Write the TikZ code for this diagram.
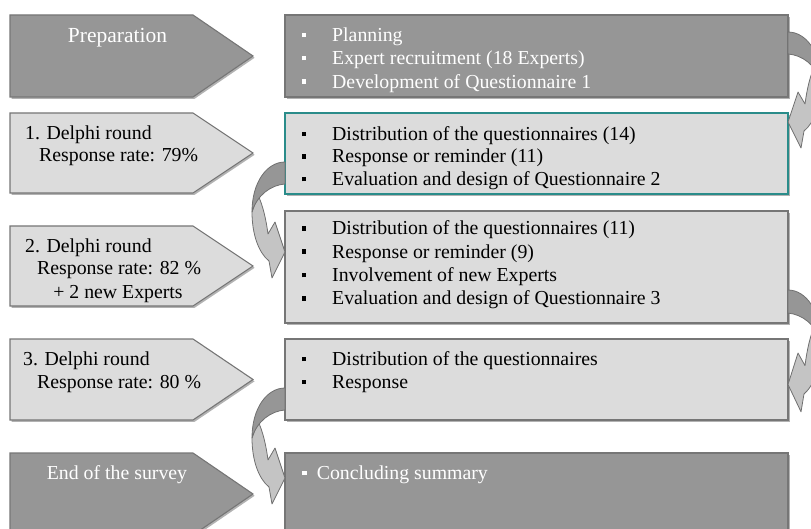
\documentclass[tikz,border=0pt]{standalone}
\usepackage{fontspec}
\setmainfont{Liberation Serif}
\usetikzlibrary{shadows,calc}

\definecolor{boxdark}{RGB}{150,150,150}
\definecolor{boxlight}{RGB}{220,220,220}
\definecolor{edgegray}{RGB}{118,118,118}
\definecolor{tealedge}{RGB}{42,140,138}
\definecolor{arrowdark}{RGB}{150,150,150}
\definecolor{arrowlight}{RGB}{196,196,196}
\definecolor{arrowedge}{RGB}{112,112,112}

% square list bullet
\newcommand\sqbullet{\raisebox{4.3pt}{\rule{4.5pt}{4.5pt}}}
\newcommand\itemrow[1]{\makebox[30.5pt][l]{\sqbullet}#1}

\tikzset{
  pics/bendarrow/.style={code={
    % front part of the curved band with its head
    \filldraw[fill=arrowlight,draw=arrowedge,line width=0.8pt,line join=round]
      (33,50) .. controls (33,73) and (26,91) .. (16,99)
      -- (13,116) -- (0,90) -- (10,60) -- (17,72)
      .. controls (19,57) and (22,44) .. (27,33) -- cycle;
    % back part of the band, leaving the box
    \filldraw[fill=arrowdark,draw=arrowedge,line width=0.8pt,line join=round]
      (0,0) .. controls (18,0) and (33,20) .. (33,50)
      .. controls (28,33) and (14,23) .. (0,22) -- cycle;
  }}
}

\begin{document}
\begin{tikzpicture}[x=1pt,y=-1pt,
  font=\fontsize{19.8}{23}\selectfont,
  softshadow/.style={drop shadow={shadow xshift=1.6pt,shadow yshift=-1.8pt,opacity=0.3,fill=black}},
  panel/.style={draw=edgegray,line width=1.1pt,softshadow},
  darkpanel/.style={panel,fill=boxdark},
  lightpanel/.style={panel,fill=boxlight},
  listbox/.style={rectangle,inner sep=0pt,outer sep=0pt,minimum width=503pt},
  txt/.style={anchor=base west,inner sep=0pt},
  ctxt/.style={anchor=base,inner sep=0pt},
]
\useasboundingbox (0,0) rectangle (811,529);
\clip (0,0) rectangle (811,529);

% stage labels (pentagon arrows)
\draw[darkpanel]  (10,15)  -- (193,15)  -- (253,56)    -- (193,97)  -- (10,97)  -- cycle;
\draw[lightpanel] (10,113) -- (193,113) -- (253,153)   -- (193,193) -- (10,193) -- cycle;
\draw[lightpanel] (10,226) -- (193,226) -- (253,266)   -- (193,306) -- (10,306) -- cycle;
\draw[lightpanel] (10,339) -- (193,339) -- (253,379.5) -- (193,420) -- (10,420) -- cycle;
\draw[darkpanel]  (10,453) -- (193,453) -- (253,494)   -- (193,535) -- (10,535) -- cycle;

% activity boxes
\node[listbox,darkpanel,minimum height=82pt] (b1) at (536.5,56) {};
\node[listbox,lightpanel,draw=tealedge,minimum height=81pt] (b2) at (536.5,153.5) {};
\node[listbox,lightpanel,minimum height=112pt] (b3) at (536.5,267) {};
\node[listbox,lightpanel,minimum height=81pt] (b4) at (536.5,379.5) {};
\node[listbox,darkpanel,minimum height=82pt] (b5) at (536.5,494) {};

% stage texts
\node[ctxt,text=white,font=\fontsize{21.5}{25}\selectfont] (s0) at (117.5,42.5) {Preparation};
\node[txt] (s1a) at (25,139.5) {1. Delphi round};
\node[txt] (s1b) at (39,161.5) {Response rate: 79\%};
\node[txt] (s2a) at (25,252.5) {2. Delphi round};
\node[txt] (s2b) at (37,275) {Response rate: 82 \%};
\node[ctxt] (s2c) at (118,298.5) {+ 2 new Experts};
\node[txt] (s3a) at (23,365.5) {3. Delphi round};
\node[txt] (s3b) at (37,388.5) {Response rate: 80 \%};
\node[ctxt,text=white] (s4) at (117,479.5) {End of the survey};

% activity lists
\node[txt,text=white] (b1i1) at (301.5,41.5) {\itemrow{Planning}};
\node[txt,text=white] (b1i2) at (301.5,64.8) {\itemrow{Expert recruitment (18 Experts)}};
\node[txt,text=white] (b1i3) at (301.5,88.2) {\itemrow{Development of Questionnaire 1}};

\node[txt] (b2i1) at (301.5,140.5) {\itemrow{Distribution of the questionnaires (14)}};
\node[txt] (b2i2) at (301.5,163) {\itemrow{Response or reminder (11)}};
\node[txt] (b2i3) at (301.5,185.8) {\itemrow{Evaluation and design of Questionnaire 2}};

\node[txt] (b3i1) at (301.5,235) {\itemrow{Distribution of the questionnaires (11)}};
\node[txt] (b3i2) at (301.5,258.3) {\itemrow{Response or reminder (9)}};
\node[txt] (b3i3) at (301.5,281.6) {\itemrow{Involvement of new Experts}};
\node[txt] (b3i4) at (301.5,305) {\itemrow{Evaluation and design of Questionnaire 3}};

\node[txt] (b4i1) at (301.5,365.5) {\itemrow{Distribution of the questionnaires}};
\node[txt] (b4i2) at (301.5,388.5) {\itemrow{Response}};

\node[txt,text=white] (b5i1) at (302,479.5) {\makebox[14.6pt][l]{\sqbullet}Concluding summary};

% curved arrows from one box to the next
\coordinate (r1) at ($(b1.north east)+(0,17)$);
\coordinate (a1) at ($(b2.north west)+(0,49)$);
\coordinate (r2) at ($(b3.north east)+(0,79)$);
\coordinate (a2) at ($(b4.north west)+(0,49)$);
\pic at (r1) {bendarrow};
\pic[xscale=-1] at (a1) {bendarrow};
\pic[yscale=1.05] at (r2) {bendarrow};
\pic[xscale=-1] at (a2) {bendarrow};
\end{tikzpicture}
\end{document}
